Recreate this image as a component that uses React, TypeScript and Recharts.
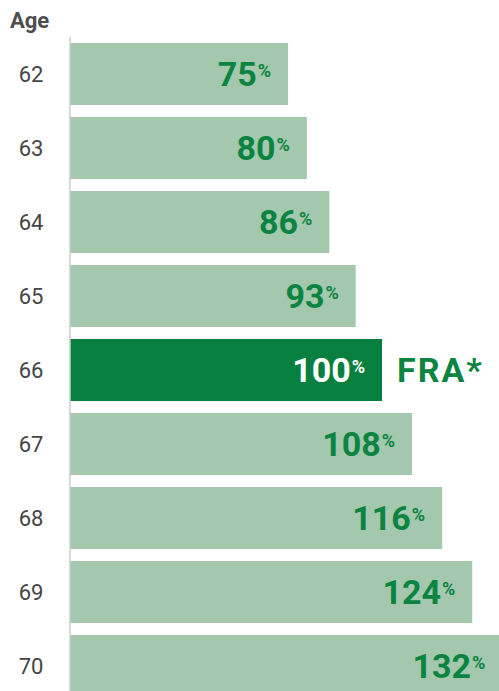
import { BarChart, Bar, XAxis, YAxis, LabelList, Cell } from 'recharts';

// Age at which benefits are claimed and the share of the full benefit received
const ages = ['62', '63', '64', '65', '66', '67', '68', '69', '70'];
const benefitPct = [75, 80, 86, 93, 100, 108, 116, 124, 132];
const fraAge = '66';

const data = ages.map((age, i) => ({ age, pct: benefitPct[i] }));

const LIGHT = '#a3c8ad';
const DARK = '#077f3e';
const TEXT_GREEN = '#0b8441';
const FONT = 'Roboto, "Noto Sans", sans-serif';

function AgeTick({ y, payload }: any) {
  return (
    <text x={31} y={y} dy={8} textAnchor="middle" fontSize={22} fill="#454545" fontFamily={FONT}>
      {payload.value}
    </text>
  );
}

function PctLabel(props: any) {
  const { x, y, width, height, value, index } = props;
  const isFra = ages[index] === fraAge;
  const right = x + width - 17;
  const base = y + height / 2 + 12;
  return (
    <g>
      <text
        x={right}
        y={base}
        textAnchor="end"
        fontFamily={FONT}
        fontWeight={700}
        fill={isFra ? '#ffffff' : TEXT_GREEN}
      >
        <tspan fontSize={34}>{value}</tspan>
        <tspan fontSize={18} dx={1} dy={-9}>%</tspan>
      </text>
      {isFra && (
        <text
          x={x + width + 15}
          y={base}
          fontFamily={FONT}
          fontWeight={700}
          fontSize={34}
          letterSpacing={2}
          fill={TEXT_GREEN}
        >
          FRA*
        </text>
      )}
    </g>
  );
}

export default function App() {
  return (
    <div
      style={{
        position: 'fixed',
        top: 0,
        left: 0,
        width: 499,
        height: 691,
        overflow: 'hidden',
        background: '#fff',
      }}
    >
      <div
        style={{
          position: 'absolute',
          left: 10,
          top: 8,
          fontFamily: FONT,
          fontWeight: 700,
          fontSize: 22,
          color: '#4d4d4d',
        }}
      >
        Age
      </div>
      <BarChart
        width={520}
        height={703}
        data={data}
        layout="vertical"
        margin={{ top: 37, right: 0, bottom: 0, left: 0 }}
      >
        <XAxis type="number" hide domain={[17, 136.7]} allowDataOverflow />
        <YAxis
          type="category"
          dataKey="age"
          width={70}
          tickLine={false}
          axisLine={{ stroke: '#cccccc', strokeWidth: 1.5 }}
          tick={<AgeTick />}
          interval={0}
        />
        <Bar dataKey="pct" barSize={62} isAnimationActive={false}>
          {data.map((d) => (
            <Cell key={d.age} fill={d.age === fraAge ? DARK : LIGHT} />
          ))}
          <LabelList dataKey="pct" content={<PctLabel />} />
        </Bar>
      </BarChart>
    </div>
  );
}
